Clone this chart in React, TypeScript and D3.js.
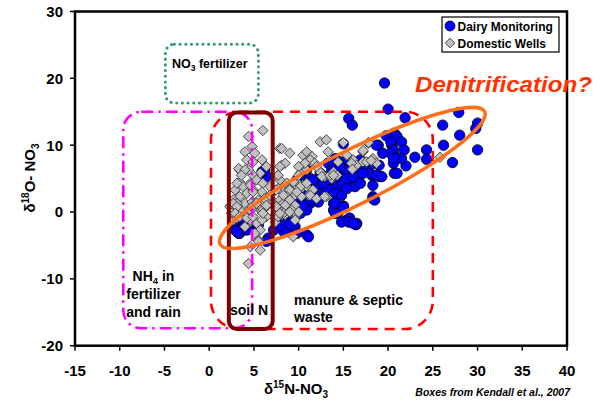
import React from "react";
import * as d3 from "d3";

// ---- Data ----
const dairyMonitoring: [number, number][] = [
  [19.6,19.3],[20.0,15.4],[15.6,14.0],[16.0,13.0],[21.9,14.1],[27.9,14.9],[26.1,13.0],[30.0,13.3],[29.8,12.5],[28.0,11.5],
  [26.2,10.0],[30.0,9.3],[27.2,7.4],[24.3,9.3],[24.3,7.9],[23.0,8.2],[22.0,6.9],[20.7,5.8],[20.7,11.8],[21.0,11.3],
  [19.8,11.4],[21.5,10.5],[20.4,10.0],[21.8,9.3],[20.7,8.5],[21.5,8.0],[20.6,7.3],[18.9,10.0],[19.0,7.0],[19.1,5.3],
  [18.2,5.5],[18.3,2.3],[20.3,10.5],[20.6,9.3],[20.3,8.8],[20.6,8.0],[21.0,5.8],
  [15.0,10.2],[18.7,10.0],[19.4,8.8],
  [13.3,7.3],[14.1,8.0],[14.6,7.5],[15.4,7.8],[16.1,7.5],[16.9,7.8],[17.6,7.3],[18.3,7.3],
  [12.4,5.8],[12.9,5.3],[13.7,6.3],[14.4,6.3],[15.0,6.0],[15.7,6.3],[16.5,5.8],[17.2,6.5],[18.0,5.8],[18.7,5.5],[19.3,5.3],
  [11.1,5.0],[12.0,4.3],[12.8,3.8],[13.5,4.3],[14.3,3.8],[14.8,4.5],[15.6,4.8],[16.3,3.8],[16.9,4.3],[18.3,4.0],
  [10.9,3.3],[11.6,3.0],[12.4,2.3],[13.3,3.5],[14.1,2.8],[14.8,2.5],[15.4,3.5],
  [9.8,2.0],[10.5,1.5],[11.3,1.3],[12.2,1.5],[13.9,1.3],[14.3,0.3],[18.3,2.0],
  [15.4,-1.2],[16.5,-1.7],[15.7,-0.9],[13.9,0.3],[14.4,-0.2],[8.5,0.3],[9.0,-0.4],[8.3,-1.2],[7.4,-0.7],[7.9,-1.7],
  [8.8,-2.2],[8.3,-2.9],[10.9,-3.4],[7.2,-2.7],
  [6.2,6.0],[3.4,-0.4],[3.6,-1.5],[3.1,-2.2],[3.4,-3.2],[4.2,-2.7],[2.7,-1.9],[8.1,-1.2],[9.0,-1.5],[9.4,-0.7],
  [7.9,-0.2],[8.8,-2.7],[6.6,-4.2],[11.1,-3.7],[10.2,-0.2],[10.9,0.3],[9.8,0.6],[10.5,1.0],[11.3,1.8],[12.0,2.3],
  [11.8,3.5],[12.8,4.3],[13.5,4.8],[14.3,5.3],[13.9,7.3],[14.6,7.0],[15.4,6.3],
  [3.3,-0.2],[4.0,-1.2],[3.3,-3.2],[2.9,-2.7],[3.8,-2.4],[5.3,-2.2],[6.2,5.8],[6.4,5.3],[6.6,-3.9],[8.3,-0.7],
  [8.5,-1.5],[8.1,-2.2],[9.0,-2.7],[8.7,-2.9],[9.6,-2.2],[9.8,-3.2],
  [14.1,-0.2],[14.8,-1.5],[15.6,-1.5],[16.4,-1.9],[15.0,0.9],[14.1,1.3],[18.5,1.8],
  [3.1,-2.9],[5.5,-1.9],[6.4,-4.4],[9.0,-1.9],[8.1,-0.2],[9.4,0.8],
  [5.9,6.0],[6.2,6.3],[14.6,6.8],[15.4,5.0],[16.1,5.3],[17.2,5.8],[11.8,2.0],[15.0,0.8],[16.1,-1.7],
  [9.8,4.8],[10.2,5.5],[10.5,6.0],[10.9,6.3],[11.3,5.0],[11.6,4.8],
];

const domesticWells: [number, number][] = [
  [6.0,12.2],[4.4,11.3],[4.8,9.8],[4.0,9.0],[5.1,8.8],[7.9,9.5],
  [4.2,7.8],[4.9,7.5],[5.9,7.8],[6.4,6.8],[5.7,5.8],[4.9,5.5],[4.4,6.3],[3.4,6.3],
  [8.1,7.0],[8.5,7.3],
  [3.4,4.5],[2.9,3.3],[3.8,3.8],[4.6,4.3],[5.3,4.8],[6.0,4.3],[6.8,3.8],[4.9,3.3],[5.9,3.0],[4.2,2.8],
  [3.4,2.3],[2.7,1.8],[3.3,1.0],[4.0,1.3],[4.8,1.5],[5.5,1.8],[6.2,2.0],[6.8,2.5],[7.2,1.5],[6.4,0.8],
  [5.7,0.3],[4.9,0.6],[4.2,0.0],[3.4,-0.2],[2.7,0.3],[2.3,0.8],
  [7.9,4.8],[8.7,4.3],[7.7,3.5],[8.3,3.0],[9.0,3.5],[9.4,2.3],[8.7,2.0],[7.9,1.8],[8.8,0.8],[8.1,0.6],
  [7.5,-0.2],[8.5,-0.4],[9.2,0.0],
  [4.6,-1.2],[5.3,-1.7],[4.0,-2.2],[5.5,-4.2],[4.6,-5.2],[5.7,-5.7],[4.4,-7.7],
  [6.0,0.3],[6.4,-0.7],[5.9,-1.2],[7.4,-1.5],
  [9.0,8.8],[10.5,8.5],[10.9,9.0],[11.5,8.3],[12.4,10.5],[13.1,10.8],[15.0,10.4],[17.8,10.3],[17.2,9.0],[11.3,7.8],
  [11.8,7.3],[10.5,7.0],[10.9,6.3],[10.2,5.8],[9.8,4.5],[10.3,3.5],[10.9,3.8],[11.6,3.3],[11.1,2.5],[10.3,2.3],
  [12.4,6.0],[12.9,5.3],[13.7,5.0],[14.4,7.5],[15.4,8.5],[16.1,7.8],[16.5,7.0],[17.2,7.5],[18.3,8.0],[13.1,2.3],
  [9.0,3.3],[8.7,2.3],[8.3,1.3],[9.6,1.0],[8.8,0.3],[8.1,-0.4],[9.8,-0.4],[7.5,3.3],[7.9,6.8],[7.7,5.5],[9.4,-3.7],
  [8.1,9.5],[13.3,9.0],[10.7,7.3],[12.0,6.8],[10.0,6.8],[15.9,7.3],[17.6,7.5],[18.7,7.3],[12.6,5.3],[13.5,5.5],
  [13.9,6.0],[14.3,5.5],[10.0,5.5],[9.4,4.5],[10.2,3.8],[10.9,4.3],[11.3,2.5],[12.0,2.0],[9.8,3.0],[9.0,1.8],
  [8.3,2.5],[7.5,0.8],[8.5,1.0],[9.2,0.3],[10.0,0.0],[8.3,-0.2],[7.7,-0.7],[12.9,2.3],
  [17.8,10.4],[17.2,9.2],[18.1,7.7],[16.0,6.4],[13.9,5.5],[25.8,8.2],
  [3.3,6.5],[4.0,6.3],[3.6,5.5],[3.1,4.3],[4.6,4.0],[4.9,3.0],[3.1,1.3],[2.5,1.0],[2.9,0.3],[3.6,0.0],
  [4.2,-0.7],[2.5,-0.2],[2.7,-1.2],[3.1,-0.9],
  [2.7,1.3],[3.1,0.8],[2.9,-0.2],[3.4,-0.7],[4.2,-0.9],[4.8,0.8],[5.3,1.3],[4.9,-0.7],[6.0,-0.2],[6.4,1.0],
  [7.5,0.8],[7.9,-0.2],[9.0,0.0],[9.6,-1.2],[5.7,-2.7],[5.1,-3.2],[5.5,-4.4],
];

const xTicks = [-15, -10, -5, 0, 5, 10, 15, 20, 25, 30, 35, 40];
const yTicks = [-20, -10, 0, 10, 20, 30];

// Source boxes (Kendall et al., 2007) in data units: [x0, x1, y0, y1]
const boxNO3Fert = [-4.9, 5.5, 16.3, 25.1];
const boxNH4 = [-9.6, 4.8, -17.4, 15.0];
const boxManure = [0.2, 25.0, -17.5, 15.0];
const boxSoilN = [2.2, 7.1, -17.5, 14.9];
const denitCenter = [16.0, 5.1];

const FONT = "'Liberation Sans', Arial, Helvetica, sans-serif";

export default function App() {
  const W = 602, H = 404;
  const left = 75, right = 567, top = 11.5, bottom = 345.7;
  const x = d3.scaleLinear().domain([-15, 40]).range([left, right]);
  const y = d3.scaleLinear().domain([-20, 30]).range([bottom, top]);

  const boxRect = (b: number[], r: number, props: any) => (
    <rect
      x={x(b[0])}
      y={y(b[3])}
      width={x(b[1]) - x(b[0])}
      height={y(b[2]) - y(b[3])}
      rx={r}
      ry={r}
      fill="none"
      {...props}
    />
  );

  const diamond = (cx: number, cy: number, s: number) =>
    `M${cx},${cy - s}L${cx + s},${cy}L${cx},${cy + s}L${cx - s},${cy}Z`;

  const ecx = x(denitCenter[0]);
  const ecy = y(denitCenter[1]);

  return (
    <svg width={W} height={H} style={{ position: "absolute", left: 0, top: 0, background: "#fff" }} fontFamily={FONT}>
      <rect x={0} y={0} width={W} height={H} fill="#fff" />

      {/* points */}
      <g>
        {dairyMonitoring.map((d, i) => (
          <circle key={"b" + i} cx={x(d[0])} cy={y(d[1])} r={5.2} fill="#0000FF" stroke="#000" strokeWidth={0.8} />
        ))}
      </g>
      <g>
        {domesticWells.map((d, i) => (
          <path key={"g" + i} d={diamond(x(d[0]), y(d[1]), 5.2)} fill="#C0C0C0" stroke="#222" strokeWidth={0.8} />
        ))}
      </g>

      {/* boxes */}
      {boxRect(boxNO3Fert, 9, { stroke: "#339966", strokeWidth: 3, strokeDasharray: "0.1,5.6", strokeLinecap: "round" })}
      {boxRect(boxNH4, 18, { stroke: "#FF00FF", strokeWidth: 2.6, strokeDasharray: "12,5,2.5,5" })}
      {boxRect(boxManure, 28, { stroke: "#FF0000", strokeWidth: 2.6, strokeDasharray: "10,7" })}
      {boxRect(boxSoilN, 8, { stroke: "#800000", strokeWidth: 4 })}

      {/* denitrification ellipse */}
      <ellipse cx={ecx} cy={ecy} rx={148} ry={27} transform={`rotate(-26.6 ${ecx} ${ecy})`} fill="none" stroke="#FF6F1A" strokeWidth={3.5} />

      {/* frame */}
      <rect x={left} y={top} width={right - left} height={bottom - top} fill="none" stroke="#000" strokeWidth={2.5} />

      {/* x axis ticks */}
      {xTicks.map((t) => (
        <g key={"xt" + t}>
          <line x1={x(t)} x2={x(t)} y1={bottom} y2={bottom + 5} stroke="#000" strokeWidth={1.5} />
          <text x={x(t)} y={376} textAnchor="middle" fontSize={15} fontWeight="bold" fill="#000">{t}</text>
        </g>
      ))}
      {yTicks.map((t) => (
        <g key={"yt" + t}>
          <line x1={left - 5} x2={left} y1={y(t)} y2={y(t)} stroke="#000" strokeWidth={1.5} />
          <text x={63} y={y(t)} dy="0.36em" textAnchor="end" fontSize={15} fontWeight="bold" fill="#000">{t}</text>
        </g>
      ))}

      {/* axis titles */}
      <text x={296} y={394} textAnchor="middle" fontSize={15} fontWeight="bold" fill="#000">
        δ<tspan fontSize={10} dy={-6}>15</tspan><tspan dy={6}>N-NO</tspan><tspan fontSize={10} dy={4}>3</tspan>
      </text>
      <text transform={`translate(35,178) rotate(-90)`} textAnchor="middle" fontSize={15} fontWeight="bold" fill="#000">
        δ<tspan fontSize={10} dy={-6}>18</tspan><tspan dy={6}>O- NO</tspan><tspan fontSize={10} dy={4}>3</tspan>
      </text>

      {/* box labels */}
      <text x={172} y={68} fontSize={12.5} fontWeight="bold" fill="#000">
        NO<tspan fontSize={8.5} dy={3}>3</tspan><tspan dy={-3}> fertilizer</tspan>
      </text>
      <g fontSize={14} fontWeight="bold" fill="#000" textAnchor="middle">
        <text x={153.5} y={281}>NH<tspan fontSize={9.5} dy={3}>4</tspan><tspan dy={-3}> in</tspan></text>
        <text x={153.5} y={299}>fertilizer</text>
        <text x={153.5} y={317}>and rain</text>
        <text x={249} y={315}>soil N</text>
      </g>
      <g fontSize={14} fontWeight="bold" fill="#000">
        <text x={294} y={305}>manure &amp; septic</text>
        <text x={294} y={322}>waste</text>
      </g>

      {/* denitrification label */}
      <text x={415} y={92} fontSize={22} fontWeight="bold" fontStyle="italic" fill="#FF3300" textLength={177} lengthAdjust="spacingAndGlyphs">
        Denitrification?
      </text>

      {/* legend */}
      <rect x={442} y={17} width={117} height={35} fill="#fff" stroke="#000" strokeWidth={1.2} />
      <circle cx={450} cy={26} r={5} fill="#0000FF" stroke="#000" strokeWidth={0.8} />
      <text x={457.5} y={30.5} fontSize={12} fontWeight="bold" fill="#000">Dairy Monitoring</text>
      <path d={diamond(450, 43, 4.8)} fill="#C0C0C0" stroke="#222" strokeWidth={0.8} />
      <text x={457.5} y={47.5} fontSize={12} fontWeight="bold" fill="#000">Domestic Wells</text>

      {/* source note */}
      <text x={570} y={396} textAnchor="end" fontSize={10.5} fontWeight="bold" fontStyle="italic" fill="#000">
        Boxes from Kendall et al., 2007
      </text>
    </svg>
  );
}
